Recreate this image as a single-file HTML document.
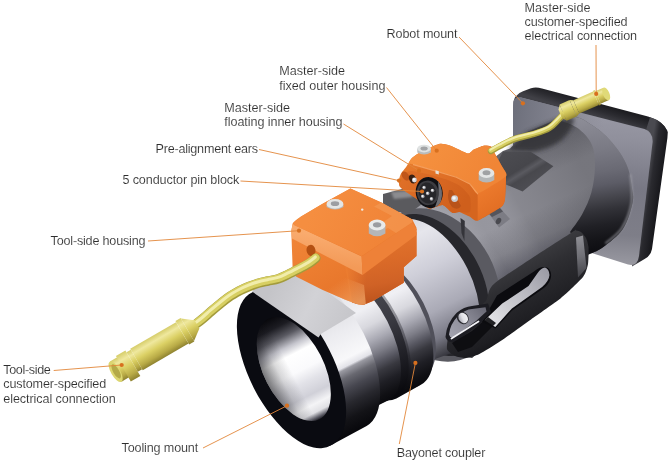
<!DOCTYPE html>
<html><head><meta charset="utf-8"><title>Connector</title>
<style>
html,body{margin:0;padding:0;background:#fff}
svg{display:block}
text{font-family:"Liberation Sans",sans-serif;font-size:12.6px;fill:#262626}
</style></head><body>
<svg width="670" height="462" viewBox="0 0 670 462">
<defs>
<filter id="b1" x="-20%" y="-20%" width="140%" height="140%"><feGaussianBlur stdDeviation="1"/></filter>
<filter id="b2" x="-20%" y="-20%" width="140%" height="140%"><feGaussianBlur stdDeviation="2"/></filter>
<filter id="b4" x="-30%" y="-30%" width="160%" height="160%"><feGaussianBlur stdDeviation="4"/></filter>
<linearGradient id="gPlateF" gradientUnits="userSpaceOnUse" x1="585.0" y1="100.0" x2="575.0" y2="270.0" ><stop offset="0" stop-color="#9c9ca8"/><stop offset="0.22" stop-color="#90909c"/><stop offset="0.5" stop-color="#787884"/><stop offset="0.78" stop-color="#7e7e88"/><stop offset="1" stop-color="#a0a0a8"/></linearGradient>
<linearGradient id="gPlateF2" gradientUnits="userSpaceOnUse" x1="513.0" y1="120.0" x2="600.0" y2="140.0" ><stop offset="0" stop-color="#6c6e7a" stop-opacity="0.95"/><stop offset="0.5" stop-color="#747682" stop-opacity="0.6"/><stop offset="1" stop-color="#86868f" stop-opacity="0"/></linearGradient>
<linearGradient id="gPlateS" gradientUnits="userSpaceOnUse" x1="645.0" y1="190.0" x2="662.0" y2="192.5" ><stop offset="0" stop-color="#4a4a50"/><stop offset="0.3" stop-color="#2a2a2f"/><stop offset="1" stop-color="#141418"/></linearGradient>
<linearGradient id="gPlateT" gradientUnits="userSpaceOnUse" x1="600.0" y1="104.0" x2="596.0" y2="117.0" ><stop offset="0" stop-color="#1d1d21"/><stop offset="0.5" stop-color="#2c2c31"/><stop offset="1" stop-color="#404046"/></linearGradient>
<linearGradient id="gBody" gradientUnits="userSpaceOnUse" x1="470.0" y1="160.0" x2="545.0" y2="325.0" ><stop offset="0" stop-color="#606066"/><stop offset="0.1" stop-color="#808088"/><stop offset="0.25" stop-color="#96969e"/><stop offset="0.4" stop-color="#96969e"/><stop offset="0.55" stop-color="#82828a"/><stop offset="0.65" stop-color="#64646e"/><stop offset="0.78" stop-color="#38383e"/><stop offset="0.9" stop-color="#1c1c20"/><stop offset="1" stop-color="#0c0c10"/></linearGradient>
<linearGradient id="gBodyAx" gradientUnits="userSpaceOnUse" x1="470.0" y1="270.0" x2="600.0" y2="200.0" ><stop offset="0" stop-color="#e8e8ee" stop-opacity="0.25"/><stop offset="0.22" stop-color="#c0c0c8" stop-opacity="0.0"/><stop offset="0.5" stop-color="#202024" stop-opacity="0.12"/><stop offset="1" stop-color="#101014" stop-opacity="0.24"/></linearGradient>
<linearGradient id="gRear" gradientUnits="userSpaceOnUse" x1="596.0" y1="110.0" x2="618.0" y2="255.0" ><stop offset="0" stop-color="#90909a"/><stop offset="0.1" stop-color="#888892"/><stop offset="0.27" stop-color="#7a7a84"/><stop offset="0.42" stop-color="#6a6a74"/><stop offset="0.51" stop-color="#5c5c66"/><stop offset="0.6" stop-color="#46464d"/><stop offset="0.68" stop-color="#323238"/><stop offset="0.78" stop-color="#202025"/><stop offset="0.88" stop-color="#141418"/><stop offset="1" stop-color="#0a0a0e"/></linearGradient>
<linearGradient id="gFlat" gradientUnits="userSpaceOnUse" x1="510.0" y1="150.0" x2="535.0" y2="190.0" ><stop offset="0" stop-color="#4c4c51"/><stop offset="0.45" stop-color="#46464b"/><stop offset="0.55" stop-color="#5a5a60"/><stop offset="0.65" stop-color="#48484d"/><stop offset="1" stop-color="#505056"/></linearGradient>
<linearGradient id="gSilver" gradientUnits="userSpaceOnUse" x1="398.0" y1="225.0" x2="462.0" y2="350.0" ><stop offset="0" stop-color="#d8d8e0"/><stop offset="0.12" stop-color="#e6e6ec"/><stop offset="0.37" stop-color="#cfcfd9"/><stop offset="0.665" stop-color="#aaaab6"/><stop offset="0.85" stop-color="#787884"/><stop offset="0.93" stop-color="#505058"/><stop offset="1" stop-color="#2c2c34"/></linearGradient>
<linearGradient id="gFl" gradientUnits="userSpaceOnUse" x1="347.9" y1="259.2" x2="414.2" y2="389.3" ><stop offset="0" stop-color="#c8c8ce"/><stop offset="0.15" stop-color="#e4e4e8"/><stop offset="0.35" stop-color="#f0f0f4"/><stop offset="0.47" stop-color="#d8d8de"/><stop offset="0.575" stop-color="#a8a8b2"/><stop offset="0.66" stop-color="#7c7c86"/><stop offset="0.72" stop-color="#585862"/><stop offset="0.78" stop-color="#38383f"/><stop offset="0.86" stop-color="#1f1f25"/><stop offset="0.94" stop-color="#101014"/><stop offset="1" stop-color="#08080c"/></linearGradient>
<linearGradient id="gGr1" gradientUnits="userSpaceOnUse" x1="327.4" y1="271.9" x2="391.9" y2="398.4" ><stop offset="0" stop-color="#55555c"/><stop offset="0.5" stop-color="#3a3a42"/><stop offset="0.8" stop-color="#1c1c22"/><stop offset="1" stop-color="#08080c"/></linearGradient>
<linearGradient id="gRing" gradientUnits="userSpaceOnUse" x1="269.6" y1="281.7" x2="347.7" y2="435.0" ><stop offset="0" stop-color="#c8c8cc"/><stop offset="0.1" stop-color="#d4d4d8"/><stop offset="0.25" stop-color="#dadade"/><stop offset="0.45" stop-color="#ececf0"/><stop offset="0.6" stop-color="#f8f8fa"/><stop offset="0.64" stop-color="#e2e2e8"/><stop offset="0.654" stop-color="#9a9aa2"/><stop offset="0.7" stop-color="#686870"/><stop offset="0.76" stop-color="#474750"/><stop offset="0.84" stop-color="#28282e"/><stop offset="0.92" stop-color="#131317"/><stop offset="1" stop-color="#08080c"/></linearGradient>
<linearGradient id="gFlatR" gradientUnits="userSpaceOnUse" x1="270.0" y1="290.0" x2="345.0" y2="330.0" ><stop offset="0" stop-color="#c4c4c8"/><stop offset="0.5" stop-color="#d2d2d6"/><stop offset="1" stop-color="#c6c6ca"/></linearGradient>
<linearGradient id="gBore" gradientUnits="userSpaceOnUse" x1="268.2" y1="318.8" x2="319.4" y2="419.2" ><stop offset="0" stop-color="#08080c"/><stop offset="0.1" stop-color="#1c1c22"/><stop offset="0.2" stop-color="#5a5a62"/><stop offset="0.3" stop-color="#c4c4cc"/><stop offset="0.38" stop-color="#ffffff"/><stop offset="0.54" stop-color="#fafafc"/><stop offset="0.65" stop-color="#e2e2e8"/><stop offset="0.77" stop-color="#d0d0d8"/><stop offset="0.86" stop-color="#f4f4f6"/><stop offset="0.93" stop-color="#e0e0e4"/><stop offset="0.975" stop-color="#60606a"/><stop offset="1" stop-color="#202026"/></linearGradient>
<linearGradient id="gBore2" gradientUnits="userSpaceOnUse" x1="267.1" y1="382.6" x2="320.5" y2="355.4" ><stop offset="0" stop-color="#08080c" stop-opacity="0.55"/><stop offset="0.25" stop-color="#08080c" stop-opacity="0.15"/><stop offset="0.45" stop-color="#08080c" stop-opacity="0"/><stop offset="1" stop-color="#08080c" stop-opacity="0"/></linearGradient>
<linearGradient id="gBlock" gradientUnits="userSpaceOnUse" x1="505.0" y1="265.0" x2="545.0" y2="340.0" ><stop offset="0" stop-color="#3c3c40"/><stop offset="0.25" stop-color="#2e2e32"/><stop offset="0.7" stop-color="#1e1e22"/><stop offset="1" stop-color="#0a0a0e"/></linearGradient>
<linearGradient id="gCh" gradientUnits="userSpaceOnUse" x1="578.0" y1="233.0" x2="586.0" y2="280.0" ><stop offset="0" stop-color="#94949a"/><stop offset="0.5" stop-color="#707076"/><stop offset="1" stop-color="#3a3a40"/></linearGradient>
<linearGradient id="gSlot" gradientUnits="userSpaceOnUse" x1="488.0" y1="324.0" x2="548.0" y2="272.0" ><stop offset="0" stop-color="#e6e6ea"/><stop offset="0.3" stop-color="#cfcfd4"/><stop offset="0.7" stop-color="#b4b4bc"/><stop offset="1" stop-color="#9c9ca6"/></linearGradient>
<linearGradient id="gLug" gradientUnits="userSpaceOnUse" x1="450.0" y1="338.0" x2="484.0" y2="308.0" ><stop offset="0" stop-color="#a4a4b0"/><stop offset="0.5" stop-color="#8e8e9a"/><stop offset="1" stop-color="#6a6a76"/></linearGradient>
<linearGradient id="gLugH" gradientUnits="userSpaceOnUse" x1="457.0" y1="320.0" x2="468.0" y2="315.0" ><stop offset="0" stop-color="#8a8a96"/><stop offset="0.5" stop-color="#e0e0e6"/><stop offset="1" stop-color="#f6f6f8"/></linearGradient>
<linearGradient id="gMF" gradientUnits="userSpaceOnUse" x1="405.0" y1="170.0" x2="465.0" y2="215.0" ><stop offset="0" stop-color="#e67a2c"/><stop offset="0.5" stop-color="#df6f26"/><stop offset="1" stop-color="#d5651f"/></linearGradient>
<linearGradient id="gMS" gradientUnits="userSpaceOnUse" x1="480.0" y1="185.0" x2="500.0" y2="215.0" ><stop offset="0" stop-color="#ee7c2e"/><stop offset="1" stop-color="#e06c22"/></linearGradient>
<linearGradient id="gMT" gradientUnits="userSpaceOnUse" x1="420.0" y1="150.0" x2="480.0" y2="190.0" ><stop offset="0" stop-color="#f5913f"/><stop offset="1" stop-color="#f08536"/></linearGradient>
<linearGradient id="gMI" gradientUnits="userSpaceOnUse" x1="400.0" y1="175.0" x2="460.0" y2="210.0" ><stop offset="0" stop-color="#e07028"/><stop offset="1" stop-color="#cf5f1c"/></linearGradient>
<linearGradient id="gTL" gradientUnits="userSpaceOnUse" x1="300.0" y1="232.0" x2="340.0" y2="300.0" ><stop offset="0" stop-color="#f08538"/><stop offset="0.5" stop-color="#ec7d30"/><stop offset="1" stop-color="#e6742a"/></linearGradient>
<linearGradient id="gTR" gradientUnits="userSpaceOnUse" x1="388.0" y1="236.0" x2="398.0" y2="296.0" ><stop offset="0" stop-color="#e2732c"/><stop offset="0.4" stop-color="#da6a28"/><stop offset="0.75" stop-color="#d06226"/><stop offset="1" stop-color="#c0561e"/></linearGradient>
<linearGradient id="gTRb" gradientUnits="userSpaceOnUse" x1="344.0" y1="280.0" x2="366.0" y2="282.0" ><stop offset="0" stop-color="#ec7d30" stop-opacity="1"/><stop offset="1" stop-color="#ec7d30" stop-opacity="0"/></linearGradient>
<linearGradient id="gTB" gradientUnits="userSpaceOnUse" x1="340.0" y1="280.0" x2="356.0" y2="304.0" ><stop offset="0" stop-color="#f0a060" stop-opacity="0"/><stop offset="1" stop-color="#f3a868" stop-opacity="0.7"/></linearGradient>
<linearGradient id="gChL" gradientUnits="userSpaceOnUse" x1="320.0" y1="235.0" x2="316.0" y2="262.0" ><stop offset="0" stop-color="#f9ab6e"/><stop offset="1" stop-color="#f39a58"/></linearGradient>
<linearGradient id="gTT" gradientUnits="userSpaceOnUse" x1="320.0" y1="200.0" x2="390.0" y2="240.0" ><stop offset="0" stop-color="#f58e40"/><stop offset="1" stop-color="#f08337"/></linearGradient>
<linearGradient id="gYel" gradientUnits="objectBoundingBox" x1="0" y1="0" x2="0" y2="1"><stop offset="0" stop-color="#d6cd6a"/><stop offset="0.22" stop-color="#efe89e"/><stop offset="0.5" stop-color="#dbd064"/><stop offset="0.8" stop-color="#b8aa46"/><stop offset="1" stop-color="#8e8230"/></linearGradient>
</defs>
<path d="M513 106 Q513 94.5 523 91.2 L531 88.3 Q536 86.8 542 88.6 L648 116.6 Q663 121 667.5 131 L652 140 Z" fill="url(#gPlateT)" />
<path d="M646 130 L650 117.3 Q663 121 667.8 132 L667.4 138 L652 249 Q650.8 255.5 645 258.8 L632 266.5 Z" fill="url(#gPlateS)" />
<path d="M513 175 L513 106 Q513 96 521 97.6 L644.5 129 Q653 132 652.6 142 L639 256 Q637.5 267 628 264.5 L560 243 Z" fill="url(#gPlateF)" />
<path d="M513 175 L513 106 Q513 96 521 97.6 L644.5 129 Q653 132 652.6 142 L639 256 Q637.5 267 628 264.5 L560 243 Z" fill="url(#gPlateF2)" />
<path d="M396 216 L470 176 L503 151 L510 148.5 L527 132 L556.5 119.5 L574 116.5 C575.3 116.9 579.2 117.7 582.0 119.0 C584.8 120.3 587.8 122.4 591.0 124.5 C594.2 126.6 597.5 128.5 601.0 131.5 C604.5 134.5 608.5 138.4 612.0 142.5 C615.5 146.6 619.2 151.4 622.0 156.0 C624.8 160.6 626.8 164.7 628.5 170.0 C630.2 175.3 631.3 182.5 632.0 188.0 C632.7 193.5 634.0 196.2 632.5 203.0 C631.0 209.8 627.9 221.4 623.0 228.8 C618.1 236.2 608.8 242.9 603.0 247.2 C597.2 251.5 590.5 253.4 588.0 254.6 L472 358 L440 352 Z" fill="url(#gBody)" />
<path d="M396 216 L470 176 L503 151 L510 148.5 L527 132 L556.5 119.5 L574 116.5 C575.3 116.9 579.2 117.7 582.0 119.0 C584.8 120.3 587.8 122.4 591.0 124.5 C594.2 126.6 597.5 128.5 601.0 131.5 C604.5 134.5 608.5 138.4 612.0 142.5 C615.5 146.6 619.2 151.4 622.0 156.0 C624.8 160.6 626.8 164.7 628.5 170.0 C630.2 175.3 631.3 182.5 632.0 188.0 C632.7 193.5 634.0 196.2 632.5 203.0 C631.0 209.8 627.9 221.4 623.0 228.8 C618.1 236.2 608.8 242.9 603.0 247.2 C597.2 251.5 590.5 253.4 588.0 254.6 L472 358 L440 352 Z" fill="url(#gBodyAx)" />
<path d="M556.5 119.5 L574 116.5 C575.3 116.9 579.2 117.7 582.0 119.0 C584.8 120.3 587.8 122.4 591.0 124.5 C594.2 126.6 597.5 128.5 601.0 131.5 C604.5 134.5 608.5 138.4 612.0 142.5 C615.5 146.6 619.2 151.4 622.0 156.0 C624.8 160.6 626.8 164.7 628.5 170.0 C630.2 175.3 631.3 182.5 632.0 188.0 C632.7 193.5 634.0 196.2 632.5 203.0 C631.0 209.8 627.9 221.4 623.0 228.8 C618.1 236.2 608.8 242.9 603.0 247.2 C597.2 251.5 590.5 253.4 588.0 254.6 L570 232 C572.0 229.0 578.7 220.7 582.3 214.0 C585.9 207.3 589.4 200.0 591.5 192.0 C593.6 184.0 595.0 174.0 595.0 166.0 C595.0 158.0 594.5 150.4 591.5 144.0 C588.5 137.6 582.6 131.7 576.8 127.6 C571.0 123.5 559.9 120.8 556.5 119.5 Z" fill="url(#gRear)" />
<path d="M630.5 175.0 C630.7 179.7 632.9 194.2 631.5 203.0 C630.1 211.8 626.2 221.3 622.0 228.0 C617.8 234.7 608.7 240.5 606.0 243.0" fill="none" stroke="#a0a0a8" stroke-width="2.0" stroke-linecap="round" stroke-linejoin="round" opacity="0.7" filter="url(#b1)"/>
<path d="M508 150 L527 132 L556.5 119.5 L574 117 Q574 128 562 140 Q548 150 531 152 Z" fill="#2e2e33" filter="url(#b2)" opacity="0.8"/>
<polygon points="497.0,163.0 503.0,151.5 530.7,151.7 553.4,166.3 522.6,191.4 500.0,182.0" fill="url(#gFlat)" />
<polygon points="488.4,213.0 499.5,207.5 510.0,219.0 499.1,227.6" fill="#7c7c84" />
<polygon points="488.4,213.0 499.5,207.5 503.0,211.5 492.0,217.0" fill="#55555c" />
<path d="M496.4 219.8 A3.4 2.4 -60.0 1 1 500.6 222.2 A3.4 2.4 -60.0 1 1 496.4 219.8 Z" fill="#4a4a50" />
<path d="M396.4 214.4 A61.0 80.0 -28.0 1 1 471.6 355.6 A61.0 80.0 -28.0 1 1 396.4 214.4 Z" fill="#5a5a61" />
<path d="M396.8 217.9 A50.0 76.0 -28.0 1 1 468.2 352.1 A50.0 76.0 -28.0 1 1 396.8 217.9 Z" fill="#27272c" />
<polygon points="460.5,218.0 464.8,221.0 464.4,241.0 461.5,233.0" fill="#34343a" />
<polygon points="383.0,194.0 402.0,189.0 421.0,192.0 426.0,201.0 410.0,213.0 397.0,212.0 383.0,208.0" fill="#5a5a5e" />
<polygon points="391.0,192.0 410.0,190.5 413.0,197.0 394.0,199.0" fill="#8c8c90" filter="url(#b1)"/>
<path d="M360.7 250.8 L398 221 A40 71 -28 0 1 463 349 L418.9 364.8 Z" fill="url(#gSilver)" />
<path d="M353.7 257.4 L364.5 258.7 A33.0 66.0 -27.0 0 1 424.4 376.3 L419.1 385.7 A35.0 72.0 -27.0 0 1 353.7 257.4 Z" fill="#50505a" />
<path d="M330.1 268.3 L355.5 256.5 A35.0 72.0 -27.0 0 1 420.9 384.8 L396.4 398.4 A36.0 73.0 -27.0 0 1 330.1 268.3 Z" fill="url(#gFl)" />
<path d="M320.3 275.6 L334.6 268.3 A35.0 71.0 -27.0 0 1 399.0 394.8 L384.8 402.1 A35.0 71.0 -27.0 0 1 320.3 275.6 Z" fill="url(#gGr1)" opacity="0.45"/>
<path d="M324.8 273.3 L331.9 269.7 A35.0 71.0 -27.0 0 1 396.4 396.2 L389.2 399.8 A35.0 71.0 -27.0 0 1 324.8 273.3 Z" fill="url(#gGr1)" />
<path d="M291.8 290.1 L323.9 273.7 A35.0 71.0 -27.0 0 1 388.3 400.3 L356.3 416.6 A35.0 71.0 -27.0 0 1 291.8 290.1 Z" fill="url(#gFl)" />
<path d="M252.5 292.2 L290.4 276.2 A40.0 84.0 -27.0 0 1 366.6 425.9 L330.5 445.4 A41.0 86.0 -27.0 0 1 252.5 292.2 Z" fill="url(#gRing)" />
<path d="M254 293 L316.6 336.6 L356 313 L300 272 Z" fill="url(#gFlatR)" />
<path d="M252.5 292.2 A41.0 86.0 -27.0 1 1 330.5 445.4 A41.0 86.0 -27.0 1 1 252.5 292.2 Z" fill="#0a0b11" />
<path d="M252 291.5 L318.5 337.5 L330 320 L262 280 Z" fill="url(#gFlatR)" />
<path d="M268.2 318.8 A30.0 56.3 -27.0 1 1 319.4 419.2 A30.0 56.3 -27.0 1 1 268.2 318.8 Z" fill="url(#gBore)" />
<path d="M268.2 318.8 A30.0 56.3 -27.0 1 1 319.4 419.2 A30.0 56.3 -27.0 1 1 268.2 318.8 Z" fill="url(#gBore2)" />
<path d="M495.0 283.0 C503.5 276.2 562.9 238.2 571.0 233.0 C579.1 227.8 575.0 230.6 576.0 230.5 C577.0 230.4 580.0 231.2 581.0 232.0 C582.0 232.8 585.2 236.5 586.0 238.0 C586.8 239.5 588.3 244.4 588.5 247.0 C588.7 249.6 588.5 261.0 588.0 264.0 C587.5 267.0 585.7 273.6 583.0 277.0 C580.3 280.4 566.2 293.8 561.0 298.0 C555.8 302.2 537.0 315.2 531.0 319.5 C525.0 323.8 505.8 337.6 500.6 341.0 C495.4 344.4 482.9 352.3 479.4 354.0 C475.9 355.7 468.4 357.8 466.0 358.0 C463.6 358.2 456.9 356.9 455.0 356.0 C453.1 355.1 447.5 351.4 447.0 349.0 C446.5 346.6 447.9 335.5 450.0 332.0 C452.1 328.5 464.4 317.1 468.0 314.0 C471.6 310.9 483.3 304.1 486.0 301.0 C488.7 297.9 486.5 289.8 495.0 283.0 Z" fill="url(#gBlock)" />
<polygon points="576.0,237.5 583.0,235.5 586.5,268.0 578.0,277.5" fill="url(#gCh)" />
<path d="M482 322 L497 295.5 L534 271.5 Q542 265 548 268 Q552.5 272 550.5 279 Q548.5 285 542.5 289 L512 310.5 L495.5 328.5 Z" fill="#0b0b0f" />
<path d="M484.6 320.2 L502.2 303.6 L528.5 286.1 L537.3 273.4 Q541 268 545 267.6 Q549 269 549.5 275 Q549 281 542.1 287 L511.9 308.5 L495.3 327 Z" fill="url(#gSlot)" />
<path d="M445.5 337 Q446.5 323 456.5 313 Q464 306.5 472 306 L488 303.5 L491 312 L479 324.5 L456 341.5 Q447.5 344 445.5 337 Z" fill="#1c1c22" />
<path d="M449 334.5 Q450 324 458.5 315.5 Q465 309.5 472 309 L485.5 307.2 L486.5 311.5 L476 321 L454 337 Q450 338.5 449 334.5 Z" fill="url(#gLug)" />
<path d="M459.1 312.8 A5.2 6.4 -35.0 1 1 466.5 323.2 A5.2 6.4 -35.0 1 1 459.1 312.8 Z" fill="#2a2a30" />
<path d="M460.0 313.4 A4.4 5.6 -35.0 1 1 466.4 322.6 A4.4 5.6 -35.0 1 1 460.0 313.4 Z" fill="url(#gLugH)" />
<path d="M451.5 338.5 L478.5 321.5" fill="none" stroke="#f2f2f6" stroke-width="1.8" stroke-linecap="round" stroke-linejoin="round" />
<path d="M452 343 L472 331 L488 317 L496 323 L472 347 L458 352 Z" fill="#0c0c10" opacity="0.9"/>
<path d="M398.8 180.8 C398.9 179.5 400.0 175.5 400.8 174.0 C401.6 172.5 405.5 167.8 406.6 166.2 C407.7 164.6 410.3 159.7 411.5 158.4 C412.7 157.1 416.3 154.7 418.3 153.5 C420.3 152.3 429.7 147.7 431.9 146.7 C434.1 145.7 438.8 143.9 440.7 143.8 C442.6 143.7 447.7 144.7 450.4 145.7 C453.1 146.7 465.7 153.1 468.0 153.5 C470.3 153.9 472.2 150.4 473.8 149.6 C475.4 148.8 481.8 146.0 483.6 145.7 C485.4 145.4 490.2 145.8 491.4 146.7 C492.6 147.6 494.1 152.4 495.3 154.5 C496.5 156.6 501.9 166.0 503.0 168.1 C504.1 170.2 505.8 172.8 506.0 175.9 C506.2 179.0 505.5 196.2 505.0 199.3 C504.5 202.4 503.8 205.0 501.1 207.1 C498.4 209.2 480.8 219.7 477.7 220.7 C474.6 221.7 471.8 217.7 469.9 216.8 C468.0 215.9 460.9 212.4 459.2 212.0 C457.4 211.6 454.0 213.6 452.4 212.9 C450.8 212.2 445.0 205.4 442.7 205.0 C440.4 204.6 431.5 209.1 429.0 208.5 C426.5 207.9 419.6 201.0 417.3 199.3 C415.0 197.6 407.4 192.8 405.6 191.5 C403.9 190.2 400.5 187.7 399.8 186.6 C399.1 185.5 398.7 182.1 398.8 180.8 Z" fill="url(#gMF)" />
<path d="M477.7 193.4 L506 176.4 L505 199.3 Q504 205 501.1 207.1 L477.7 220.7 Z" fill="url(#gMS)" />
<path d="M409.0 163.5 C408.8 163.0 410.7 159.2 411.5 158.4 C412.3 157.6 416.6 154.5 418.3 153.5 C420.0 152.5 430.0 147.5 431.9 146.7 C433.8 145.9 439.2 143.9 440.7 143.8 C442.2 143.7 448.1 144.9 450.4 145.7 C452.7 146.5 466.1 153.2 468.0 153.5 C469.9 153.8 472.5 150.2 473.8 149.6 C475.1 148.9 482.1 145.9 483.6 145.7 C485.1 145.5 490.4 146.0 491.4 146.7 C492.4 147.4 494.3 152.7 495.3 154.5 C496.3 156.3 502.1 166.3 503.0 168.1 C503.9 169.9 508.1 174.3 506.0 176.4 C503.9 178.5 480.7 192.8 477.7 193.4 C474.7 194.0 471.7 185.1 469.9 183.7 C468.1 182.3 459.1 178.0 456.3 176.9 C453.5 175.8 440.4 172.1 436.8 171.0 C433.2 169.9 415.7 164.8 413.4 164.2 C411.1 163.6 409.2 164.0 409.0 163.5 Z" fill="url(#gMT)" />
<path d="M413.4 164.6 L436.8 171.4 L456.3 177.3 L469.9 184.1 L477.7 193.8" fill="none" stroke="#f7a868" stroke-width="1.1" stroke-linecap="round" stroke-linejoin="round" opacity="0.8"/>
<path d="M399.5 181.0 C399.8 179.8 401.9 176.0 403.0 175.0 C404.1 174.0 407.8 171.2 410.0 171.0 C412.2 170.8 421.5 172.7 425.0 173.5 C428.5 174.3 441.5 177.8 445.0 179.0 C448.5 180.2 457.5 184.2 460.0 186.0 C462.5 187.8 469.0 194.4 470.0 197.0 C471.0 199.6 471.1 210.5 470.0 212.0 C468.9 213.5 461.0 211.9 459.2 212.0 C457.4 212.1 454.0 213.6 452.4 212.9 C450.8 212.2 445.0 205.4 442.7 205.0 C440.4 204.6 431.5 209.1 429.0 208.5 C426.5 207.9 419.6 201.0 417.3 199.3 C415.0 197.6 407.4 192.8 405.6 191.5 C403.9 190.2 400.4 187.7 399.8 186.6 C399.2 185.5 399.2 182.2 399.5 181.0 Z" fill="url(#gMI)" />
<path d="M408.1 174.2 A4.4 3.2 55.0 1 1 402.9 177.8 A4.4 3.2 55.0 1 1 408.1 174.2 Z" fill="#c0561a" />
<path d="M410.7 174.8 A3.4 4.6 -25.0 1 1 414.5 183.2 A3.4 4.6 -25.0 1 1 410.7 174.8 Z" fill="#3a2012" />
<circle cx="414.4" cy="180.0" r="2.4" fill="#d9dade" />
<circle cx="413.9" cy="179.4" r="1.1" fill="#ffffff" />
<path d="M449 190 Q446 200 452 207 Q458 211 461 206 Q456 196 452 190 Z" fill="#b9531a" />
<circle cx="454.6" cy="198.6" r="3.4" fill="#c9cace" />
<circle cx="454.0" cy="198.0" r="1.8" fill="#f4f4f6" />
<polygon points="435.5,170.2 438.8,171.2 438.8,174.5 435.5,173.5" fill="#e9e2d8" />
<path d="M426.0 177.3 A13.4 15.6 -12.0 1 1 432.4 207.9 A13.4 15.6 -12.0 1 1 426.0 177.3 Z" fill="#101014" />
<path d="M438 181 Q444 190 441 201 Q439 206 435 207 Q440 196 438 181 Z" fill="#6c6c72" />
<path d="M425.3 181.0 A10.0 12.2 -12.0 1 1 430.3 204.8 A10.0 12.2 -12.0 1 1 425.3 181.0 Z" fill="#3c3c41" />
<path d="M425.4 182.6 A8.6 10.6 -12.0 1 1 429.8 203.4 A8.6 10.6 -12.0 1 1 425.4 182.6 Z" fill="#26262a" />
<circle cx="427.7" cy="193.4" r="1.8" fill="#9a9aa0" />
<circle cx="427.4" cy="193.1" r="1.1" fill="#f2f2f4" />
<circle cx="424.1" cy="187.6" r="1.8" fill="#9a9aa0" />
<circle cx="423.8" cy="187.3" r="1.1" fill="#f2f2f4" />
<circle cx="432.5" cy="190.5" r="1.8" fill="#9a9aa0" />
<circle cx="432.2" cy="190.2" r="1.1" fill="#f2f2f4" />
<circle cx="422.8" cy="196.4" r="1.8" fill="#9a9aa0" />
<circle cx="422.5" cy="196.1" r="1.1" fill="#f2f2f4" />
<circle cx="431.5" cy="198.9" r="1.8" fill="#9a9aa0" />
<circle cx="431.2" cy="198.6" r="1.1" fill="#f2f2f4" />
<path d="M417.3 148.6 L417.3 152.6 Q424.1 156.6 430.9 152.6 L430.9 148.6 Z" fill="#b9bcbc" />
<path d="M424.1 144.7 A6.8 3.9 0.0 1 1 424.1 152.5 A6.8 3.9 0.0 1 1 424.1 144.7 Z" fill="#dfe2e2" />
<path d="M424.1 146.4 A3.6 2.0 0.0 1 1 424.1 150.4 A3.6 2.0 0.0 1 1 424.1 146.4 Z" fill="#a2a4a6" />
<path d="M478.7 173 L478.7 180 Q486.5 185 494.3 180 L494.3 173 Z" fill="#b4b7b8" />
<path d="M486.5 168.1 A7.8 4.9 0.0 1 1 486.5 177.9 A7.8 4.9 0.0 1 1 486.5 168.1 Z" fill="#e4e6e6" />
<path d="M486.5 170.3 A4.0 2.5 0.0 1 1 486.5 175.3 A4.0 2.5 0.0 1 1 486.5 170.3 Z" fill="#a0a2a4" />
<path d="M350.4 188.4 L322.2 203.9 L301.1 216.6 Q293.5 221.5 292.7 223.6 L291.3 230.7 L292.7 270 Q293.5 275.5 296.9 277.1 L322.2 289.8 L344.7 299.6 L356 303.8 Q361 305.5 364.4 304.4 L372.9 301 L403.8 282.7 L403.8 267.2 L416.5 256 L416.5 227.8 L412.3 219.4 L381.3 202.5 Z" fill="url(#gTL)" />
<path d="M346 262 L362.6 270 L416.5 232 L416.5 256 L403.8 267.2 L403.8 282.7 L372.9 301 L364.4 304.4 Q358 305 352 302.3 Z" fill="url(#gTR)" />
<path d="M344 260 L366 271 L368 304 L352 303 Z" fill="url(#gTRb)" />
<path d="M322.2 289.8 L344.7 299.6 L356 303.8 Q361 305.5 365.8 303.8 L364 285 L330 272 Z" fill="url(#gTB)" />
<path d="M292.7 223.6 L294 225 L361.6 256.5 L362.6 275 L292 238.6 L291.3 230.7 Z" fill="url(#gChL)" />
<path d="M361.6 256.5 L412.3 222.2 L416.5 229.3 L416.5 235 L362.6 275 Z" fill="#ee8138" />
<path d="M350.4 188.4 L322.2 203.9 L301.1 216.6 L293.5 223 L294.5 225.2 L361.6 256 L412.3 222.2 L412.3 219.4 L381.3 202.5 Z" fill="url(#gTT)" />
<path d="M381.3 202.5 L412.3 219.4 L412.3 222.2 L396 233 L388 228 L373 236 L369 232 L392 216 L374 206.5 Z" fill="#f6a05c" opacity="0.5"/>
<path d="M310.0 244.9 A4.2 5.6 -10.0 1 1 312.0 255.9 A4.2 5.6 -10.0 1 1 310.0 244.9 Z" fill="#b45012" />
<path d="M326.6 204 L326.6 207 Q335 212 343.4 207 L343.4 204 Z" fill="#b8babc" />
<path d="M335.0 199.0 A8.4 4.9 0.0 1 1 335.0 208.8 A8.4 4.9 0.0 1 1 335.0 199.0 Z" fill="#e4e6e6" />
<path d="M335.0 201.3 A4.2 2.4 0.0 1 1 335.0 206.1 A4.2 2.4 0.0 1 1 335.0 201.3 Z" fill="#9c9ea2" />
<path d="M368.8 225 L368.8 233.5 Q377.1 239 385.4 233.5 L385.4 225 Z" fill="#b4b6b8" />
<path d="M377.1 219.6 A8.4 5.4 0.0 1 1 377.1 230.4 A8.4 5.4 0.0 1 1 377.1 219.6 Z" fill="#e8eaea" />
<path d="M377.1 222.2 A4.2 2.6 0.0 1 1 377.1 227.4 A4.2 2.6 0.0 1 1 377.1 222.2 Z" fill="#9a9ca0" />
<circle cx="362.2" cy="209.6" r="1.2" fill="#ecece8" />
<path d="M491.0 151.0 C492.5 150.2 496.1 148.0 500.0 146.0 C503.9 144.0 508.7 141.1 514.6 139.0 C520.5 136.9 529.6 135.3 535.4 133.5 C541.2 131.7 545.5 130.2 549.2 128.0 C552.9 125.8 555.2 122.8 557.5 120.5 C559.8 118.2 562.1 115.5 563.0 114.5" fill="none" stroke="#a39b3c" stroke-width="6.4" stroke-linecap="round" stroke-linejoin="round" />
<path d="M491.0 151.0 C492.5 150.2 496.1 148.0 500.0 146.0 C503.9 144.0 508.7 141.1 514.6 139.0 C520.5 136.9 529.6 135.3 535.4 133.5 C541.2 131.7 545.5 130.2 549.2 128.0 C552.9 125.8 555.2 122.8 557.5 120.5 C559.8 118.2 562.1 115.5 563.0 114.5" fill="none" stroke="#d7cf62" stroke-width="4.6000000000000005" stroke-linecap="round" stroke-linejoin="round" transform="translate(-0.2 -0.6)"/>
<path d="M491.0 151.0 C492.5 150.2 496.1 148.0 500.0 146.0 C503.9 144.0 508.7 141.1 514.6 139.0 C520.5 136.9 529.6 135.3 535.4 133.5 C541.2 131.7 545.5 130.2 549.2 128.0 C552.9 125.8 555.2 122.8 557.5 120.5 C559.8 118.2 562.1 115.5 563.0 114.5" fill="none" stroke="#f1edac" stroke-width="2.048" stroke-linecap="round" stroke-linejoin="round" transform="translate(-0.5 -1.3)"/>
<g transform="translate(560.3 113.8) rotate(-23.5)">
<path d="M0.0 -4.5 L3.0 -8.6 L3.0 8.6 L0.0 4.5 Z" fill="url(#gYel)"/>
<path d="M3.0 -8.8 L14.0 -9.0 L14.0 9.0 L3.0 8.8 Z" fill="url(#gYel)"/>
<path d="M14.0 -9.0 L17.5 -7.3 L17.5 7.3 L14.0 9.0 Z" fill="url(#gYel)"/>
<path d="M17.5 -7.3 L39.0 -7.3 L39.0 7.3 L17.5 7.3 Z" fill="url(#gYel)"/>
<path d="M39.0 -8.0 L41.0 -8.0 L41.0 8.0 L39.0 8.0 Z" fill="url(#gYel)"/>
<path d="M41.0 -6.8 L50.0 -6.8 L50.0 6.8 L41.0 6.8 Z" fill="url(#gYel)"/>
</g>
<ellipse cx="606.2" cy="93.9" rx="3.2" ry="6.8" transform="rotate(-23.5 606.2 93.9)" fill="#e0da78"/>
<path d="M315.8 258.3 C314.7 259.2 312.0 261.6 309.0 263.5 C306.0 265.4 301.5 267.7 298.0 269.5 C294.5 271.3 291.2 273.0 288.0 274.5 C284.8 276.0 281.8 277.6 278.5 278.7 C275.2 279.8 271.2 280.3 268.0 281.0 C264.8 281.7 262.2 282.1 259.0 283.0 C255.8 283.9 252.2 285.2 249.0 286.5 C245.8 287.8 242.8 289.1 239.5 290.8 C236.2 292.6 232.2 294.8 229.0 297.0 C225.8 299.2 223.0 301.6 220.0 304.0 C217.0 306.4 213.8 309.1 211.0 311.5 C208.2 313.9 205.5 316.4 203.0 318.5 C200.5 320.6 197.2 323.1 196.0 324.0" fill="none" stroke="#a39b3c" stroke-width="9.6" stroke-linecap="round" stroke-linejoin="round" />
<path d="M315.8 258.3 C314.7 259.2 312.0 261.6 309.0 263.5 C306.0 265.4 301.5 267.7 298.0 269.5 C294.5 271.3 291.2 273.0 288.0 274.5 C284.8 276.0 281.8 277.6 278.5 278.7 C275.2 279.8 271.2 280.3 268.0 281.0 C264.8 281.7 262.2 282.1 259.0 283.0 C255.8 283.9 252.2 285.2 249.0 286.5 C245.8 287.8 242.8 289.1 239.5 290.8 C236.2 292.6 232.2 294.8 229.0 297.0 C225.8 299.2 223.0 301.6 220.0 304.0 C217.0 306.4 213.8 309.1 211.0 311.5 C208.2 313.9 205.5 316.4 203.0 318.5 C200.5 320.6 197.2 323.1 196.0 324.0" fill="none" stroke="#d7cf62" stroke-width="7.8" stroke-linecap="round" stroke-linejoin="round" transform="translate(-0.2 -0.6)"/>
<path d="M315.8 258.3 C314.7 259.2 312.0 261.6 309.0 263.5 C306.0 265.4 301.5 267.7 298.0 269.5 C294.5 271.3 291.2 273.0 288.0 274.5 C284.8 276.0 281.8 277.6 278.5 278.7 C275.2 279.8 271.2 280.3 268.0 281.0 C264.8 281.7 262.2 282.1 259.0 283.0 C255.8 283.9 252.2 285.2 249.0 286.5 C245.8 287.8 242.8 289.1 239.5 290.8 C236.2 292.6 232.2 294.8 229.0 297.0 C225.8 299.2 223.0 301.6 220.0 304.0 C217.0 306.4 213.8 309.1 211.0 311.5 C208.2 313.9 205.5 316.4 203.0 318.5 C200.5 320.6 197.2 323.1 196.0 324.0" fill="none" stroke="#f1edac" stroke-width="3.072" stroke-linecap="round" stroke-linejoin="round" transform="translate(-0.5 -1.3)"/>
<g transform="translate(116.6 371.1) rotate(-30.2)">
<path d="M-1.0 -11.6 L9.0 -11.6 L9.0 11.6 L-1.0 11.6 Z" fill="url(#gYel)"/>
<path d="M7.0 -13.4 L18.0 -13.4 L18.0 16.2 L7.0 16.2 Z" fill="url(#gYel)"/>
<path d="M18.0 -11.2 L23.0 -11.2 L23.0 11.2 L18.0 11.2 Z" fill="url(#gYel)"/>
<path d="M23.0 -12.4 L76.0 -12.4 L76.0 12.4 L23.0 12.4 Z" fill="url(#gYel)"/>
<path d="M76.0 -13.6 L82.0 -13.6 L82.0 13.6 L76.0 13.6 Z" fill="url(#gYel)"/>
<path d="M82.0 -13.0 L93.0 -4.8 L93.0 4.8 L82.0 13.0 Z" fill="url(#gYel)"/>
</g>
<ellipse cx="115.6" cy="371.7" rx="4.6" ry="11.6" transform="rotate(-30.2 115.6 371.7)" fill="#dcd670"/>
<ellipse cx="116.2" cy="371.4" rx="3.0" ry="8.0" transform="rotate(-30.2 116.2 371.4)" fill="#b4aa48"/>
<line x1="596.0" y1="45.0" x2="596.2" y2="93.9" stroke="#e2873a" stroke-width="0.9" />
<circle cx="596.2" cy="93.9" r="2.1" fill="#d8701e" />
<line x1="459.0" y1="37.0" x2="522.9" y2="103.3" stroke="#e2873a" stroke-width="0.9" />
<circle cx="522.9" cy="103.3" r="2.1" fill="#d8701e" />
<line x1="386.5" y1="87.5" x2="436.7" y2="150.7" stroke="#e2873a" stroke-width="0.9" />
<circle cx="436.7" cy="150.7" r="2.1" fill="#d8701e" />
<line x1="343.5" y1="124.0" x2="419.0" y2="170.7" stroke="#e2873a" stroke-width="0.9" />
<circle cx="419.0" cy="170.7" r="2.1" fill="#d8701e" />
<line x1="259.0" y1="149.5" x2="399.0" y2="180.6" stroke="#e2873a" stroke-width="0.9" />
<circle cx="399.0" cy="180.6" r="2.1" fill="#d8701e" />
<line x1="240.5" y1="181.0" x2="422.0" y2="191.5" stroke="#e2873a" stroke-width="0.9" />
<circle cx="422.0" cy="191.5" r="2.1" fill="#d8701e" />
<line x1="148.0" y1="241.0" x2="299.0" y2="230.7" stroke="#e2873a" stroke-width="0.9" />
<circle cx="299.0" cy="230.7" r="2.1" fill="#d8701e" />
<line x1="53.7" y1="370.5" x2="121.7" y2="365.0" stroke="#e2873a" stroke-width="0.9" />
<circle cx="121.7" cy="365.0" r="2.1" fill="#d8701e" />
<line x1="203.0" y1="448.0" x2="287.0" y2="405.7" stroke="#e2873a" stroke-width="0.9" />
<circle cx="287.0" cy="405.7" r="2.1" fill="#d8701e" />
<line x1="399.3" y1="444.0" x2="415.4" y2="362.9" stroke="#e2873a" stroke-width="0.9" />
<circle cx="415.4" cy="362.9" r="2.1" fill="#d8701e" />
<g opacity="0.96" stroke="#ffffff" stroke-width="0.12">
<text x="524.6" y="12.0" textLength="65.8" lengthAdjust="spacing">Master-side</text>
<text x="524.6" y="26.1" textLength="102.9" lengthAdjust="spacing">customer-specified</text>
<text x="524.6" y="40.3" textLength="112.5" lengthAdjust="spacing">electrical connection</text>
<text x="386.6" y="38.2" textLength="70.8" lengthAdjust="spacing">Robot mount</text>
<text x="279.2" y="75.4" textLength="65.8" lengthAdjust="spacing">Master-side</text>
<text x="279.2" y="89.6" textLength="106.2" lengthAdjust="spacing">fixed outer housing</text>
<text x="224.3" y="111.8" textLength="65.8" lengthAdjust="spacing">Master-side</text>
<text x="224.3" y="126.1" textLength="118.2" lengthAdjust="spacing">floating inner housing</text>
<text x="155.5" y="153.0" textLength="102.6" lengthAdjust="spacing">Pre-alignment ears</text>
<text x="122.4" y="184.3" textLength="116.9" lengthAdjust="spacing">5 conductor pin block</text>
<text x="50.6" y="244.7" textLength="94.9" lengthAdjust="spacing">Tool-side housing</text>
<text x="3.3" y="373.6" textLength="47.5" lengthAdjust="spacing">Tool-side</text>
<text x="3.3" y="388.4" textLength="102.9" lengthAdjust="spacing">customer-specified</text>
<text x="3.3" y="403.2" textLength="112.4" lengthAdjust="spacing">electrical connection</text>
<text x="121.6" y="452.0" textLength="76.6" lengthAdjust="spacing">Tooling mount</text>
<text x="396.7" y="456.7" textLength="88.7" lengthAdjust="spacing">Bayonet coupler</text>
</g>
</svg>
</body></html>
